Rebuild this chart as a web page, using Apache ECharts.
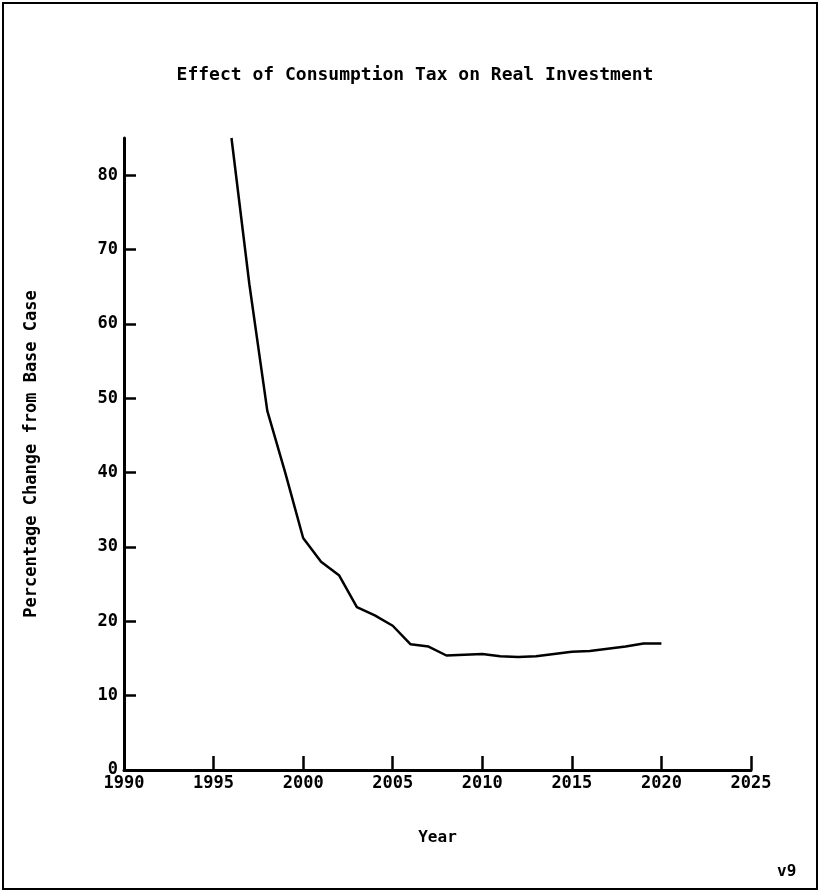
<!DOCTYPE html>
<html>
<head>
<meta charset="utf-8">
<script src="https://cdn.jsdelivr.net/npm/echarts@6/dist/echarts.min.js"></script>
<style>
html,body{margin:0;padding:0;background:#fff;}
#chart{width:821px;height:894px;}
</style>
</head>
<body>
<div id="chart"></div>
<script>
const titleText = 'Effect of Consumption Tax on Real Investment';
const xAxisName = 'Year';
const yAxisName = 'Percentage Change from Base Case';
const years = [1996,1997,1998,1999,2000,2001,2002,2003,2004,2005,2006,2007,2008,2009,2010,2011,2012,2013,2014,2015,2016,2017,2018,2019,2020];
const investment = [85,65.3,48.3,40,31.2,28.0,26.2,21.9,20.8,19.4,16.9,16.6,15.4,15.5,15.6,15.3,15.2,15.3,15.6,15.9,16.0,16.3,16.6,17.0,17.0];
const yTicks = [0,10,20,30,40,50,60,70,80];
const versionNote = 'v9';

const font = '"DejaVu Sans Mono", monospace';
const chart = echarts.init(document.getElementById('chart'));
chart.setOption({
  animation: false,
  backgroundColor: '#fff',
  title: {
    text: titleText,
    left: 410, top: 61, textAlign: 'center',
    textStyle: {fontFamily: font, fontSize: 18, fontWeight: 'bold', color: '#000'}
  },
  grid: {left: 124, top: 138, right: 70, bottom: 124},
  xAxis: {
    type: 'value', min: 1990, max: 2025, interval: 5,
    name: xAxisName, nameLocation: 'middle', nameGap: 60,
    nameTextStyle: {fontFamily: font, fontSize: 16, fontWeight: 'bold', color: '#000'},
    axisLine: {show: true, lineStyle: {color: '#000', width: 3}},
    axisTick: {show: true, inside: true, length: 14, lineStyle: {color: '#000', width: 2.5}},
    axisLabel: {fontFamily: font, fontSize: 17, fontWeight: 'bold', color: '#000', margin: 5,
      formatter: v => String(v)},
    splitLine: {show: false}
  },
  yAxis: {
    type: 'value', min: 0, max: 85, interval: 10,
    name: yAxisName, nameLocation: 'middle', nameGap: 84, nameRotate: 90,
    nameTextStyle: {fontFamily: font, fontSize: 17, fontWeight: 'bold', color: '#000'},
    axisLine: {show: true, lineStyle: {color: '#000', width: 3}},
    axisTick: {show: true, inside: true, length: 12, lineStyle: {color: '#000', width: 2.5}, customValues: yTicks},
    axisLabel: {fontFamily: font, fontSize: 17, fontWeight: 'bold', color: '#000', margin: 6, customValues: yTicks},
    splitLine: {show: false}
  },
  series: [{
    type: 'line',
    data: years.map((y, i) => [y, investment[i]]),
    showSymbol: false,
    lineStyle: {color: '#000', width: 2.5},
    clip: true
  }],
  graphic: [
    {type: 'rect', shape: {x: 3, y: 3, width: 814, height: 886}, style: {fill: 'none', stroke: '#000', lineWidth: 2}, silent: true},
    {type: 'text', left: 777, top: 864, style: {text: versionNote, fontFamily: font, fontSize: 16, fontWeight: 'bold', fill: '#000'}}
  ]
});
</script>
</body>
</html>
